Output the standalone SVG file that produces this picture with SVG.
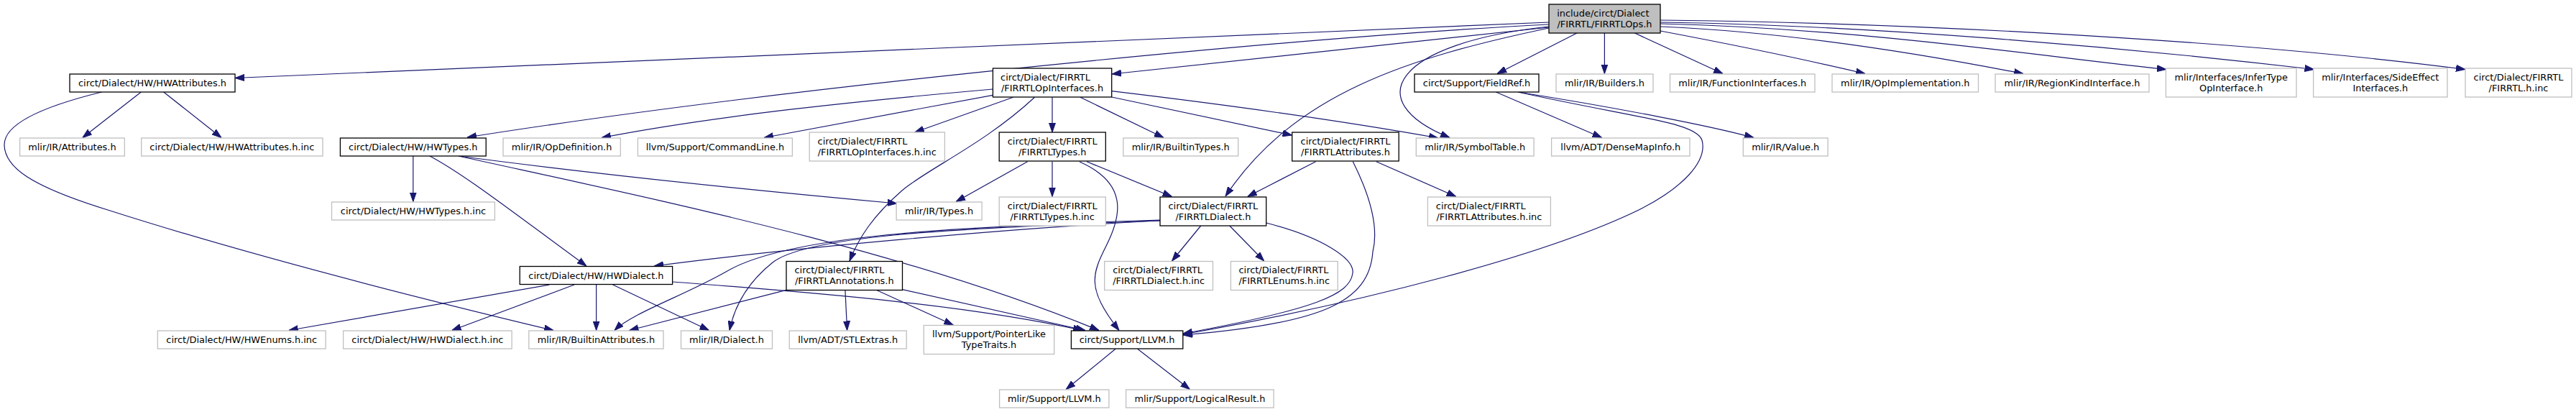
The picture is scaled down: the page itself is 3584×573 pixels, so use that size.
<svg xmlns="http://www.w3.org/2000/svg" width="3584" height="573" viewBox="0 0 3584 573">
<defs>
<style>
.node rect{stroke-width:1.3}
.doc rect{fill:#ffffff;stroke:#000000}
.ext rect{fill:#ffffff;stroke:#bfbfbf}
.root rect{fill:#bfbfbf;stroke:#000000}
text{font-family:"DejaVu Sans","Liberation Sans",sans-serif;font-size:12.9px;fill:#000000}
.c{text-anchor:middle}
.s{text-anchor:start}
#edges path{fill:none;stroke:#191970;stroke-width:1.2;marker-end:url(#ah)}
</style>
<marker id="ah" markerWidth="13" markerHeight="10" refX="13" refY="5" orient="auto" markerUnits="userSpaceOnUse">
<path d="M0,0.5 L13,5 L0,9.5 z" fill="#191970" stroke="#191970" stroke-width="1"/>
</marker>
</defs>
<rect x="0" y="0" width="3584" height="573" fill="#ffffff"/>

<g id="edges">
<path d="M2155,31 L327,108.5"/>
<path d="M2155,34 C 1800,52 1100,120 650,191"/>
<path d="M2155,38 L1547,103"/>
<path d="M2155,39 C 1960,80 1800,130 1705,273"/>
<path d="M2155,37 C 1940,60 1890,140 2017,191.5"/>
<path d="M2194,46 L2083,102.5"/>
<path d="M2232.4,46 L2232.4,102.5"/>
<path d="M2274.5,46 L2397,102.5"/>
<path d="M2310,43 C 2400,60 2500,80 2595,102.5"/>
<path d="M2310,37 C 2500,45 2700,80 2815,102.5"/>
<path d="M2310,33 C 2600,40 2850,80 3014,96.5"/>
<path d="M2310,31 C 2600,35 2950,65 3219.5,96.5"/>
<path d="M2310,28 C 2700,32 3150,60 3430,96.5"/>
<path d="M1381.4,124 C 1200,140 1000,160 837,191.5"/>
<path d="M1381.4,132.3 L1063,191.5"/>
<path d="M1409.7,135.3 L1272.7,184"/>
<path d="M1464,135.3 L1464,184"/>
<path d="M1503,135.3 L1619,191.5"/>
<path d="M1546.7,135 L1797.5,188"/>
<path d="M1546.7,126.7 C 1700,145 1850,165 2001,192"/>
<path d="M1439.5,135.3 C 1370,200 1290,235 1255,265 C 1215,300 1195,330 1182,363"/>
<path d="M196.3,128 L114.8,191.5"/>
<path d="M227.7,128 L308,191.5"/>
<path d="M141.6,128 C 60,148 5,172 6,202 C 7,232 40,258 150,292 C 300,340 500,395 770,459.5"/>
<path d="M574.8,217 L574.8,280.5"/>
<path d="M598,217 C 650,245 720,300 816,370"/>
<path d="M638,217 C 850,245 1050,265 1248,283"/>
<path d="M638,217 C 900,275 1250,345 1529,459.5"/>
<path d="M1429.6,224.7 L1330.1,280.5"/>
<path d="M1464,224.7 L1464,273.5"/>
<path d="M1502,225 C 1570,255 1560,300 1540,340 S 1510,400 1557,459.5"/>
<path d="M1511.9,224.7 L1630.5,273.5"/>
<path d="M1830.6,224.7 L1735.7,273.5"/>
<path d="M1914.8,224.7 L2025.8,273.5"/>
<path d="M1882.3,224.7 C 1900,260 1920,310 1910,350 C 1905,420 1840,450 1646,466"/>
<path d="M1670.7,314 L1630.5,363"/>
<path d="M1710.8,314 L1758.7,363"/>
<path d="M1761.7,310 C 1840,330 1885,360 1882,380 C 1878,410 1830,430 1646,464"/>
<path d="M2081.3,128 L2228.6,191.5"/>
<path d="M2112,128 C 2250,150 2380,175 2440,191.5"/>
<path d="M2112,128 C 2280,165 2360,170 2368,195 C 2376,225 2340,262 2280,292 C 2150,355 1900,420 1646,465"/>
<path d="M764.5,396 L401.8,459.5"/>
<path d="M799,396 L628.7,459.5"/>
<path d="M829.6,396 L829.6,459.5"/>
<path d="M852.6,396 L986.5,459.5"/>
<path d="M935.6,392 C 1150,408 1350,425 1506,459.5"/>
<path d="M1614,306.7 C 1400,318 1100,345 910,370"/>
<path d="M1614,306 C 1300,316 1090,330 1010,378 C 950,412 880,435 855,459.5"/>
<path d="M1614,307 C 1300,318 1120,330 1075,365 C 1040,393 1022,425 1015,459.5"/>
<path d="M1094,403.3 L875.5,459.5"/>
<path d="M1175.9,403.3 L1178.6,459.5"/>
<path d="M1219.1,403.3 L1326.3,452"/>
<path d="M1255.5,402.7 L1510,459.5"/>
<path d="M1552,485.3 L1483.2,541.5"/>
<path d="M1582.7,485.3 L1655.4,541.5"/>
</g>

<g id="n_root" class="node root"><rect x="2155" y="6" width="155" height="40"/><text class="s" x="2166.2" y="22.5">include/circt/Dialect</text><text class="c" x="2232.5" y="37.5">/FIRRTL/FIRRTLOps.h</text></g>
<g id="n_hwattr" class="node doc"><rect x="97" y="103" width="230" height="25"/><text class="c" x="212" y="120">circt/Dialect/HW/HWAttributes.h</text></g>
<g id="n_fieldref" class="node doc"><rect x="1968" y="103" width="173" height="25"/><text class="c" x="2054.5" y="120">circt/Support/FieldRef.h</text></g>
<g id="n_builders" class="node ext"><rect x="2165" y="103" width="135" height="25"/><text class="c" x="2232.5" y="120">mlir/IR/Builders.h</text></g>
<g id="n_funcif" class="node ext"><rect x="2323.5" y="103" width="201.5" height="25"/><text class="c" x="2424.3" y="120">mlir/IR/FunctionInterfaces.h</text></g>
<g id="n_opimpl" class="node ext"><rect x="2549" y="103" width="203.5" height="25"/><text class="c" x="2650.8" y="120">mlir/IR/OpImplementation.h</text></g>
<g id="n_region" class="node ext"><rect x="2776" y="103" width="214" height="25"/><text class="c" x="2883" y="120">mlir/IR/RegionKindInterface.h</text></g>
<g id="n_infer" class="node ext"><rect x="3013.4" y="95" width="181.6" height="40"/><text class="c" x="3104.2" y="111.5">mlir/Interfaces/InferType</text><text class="c" x="3104.2" y="126.5">OpInterface.h</text></g>
<g id="n_sideeff" class="node ext"><rect x="3218.6" y="95" width="186.4" height="40"/><text class="c" x="3311.8" y="111.5">mlir/Interfaces/SideEffect</text><text class="c" x="3311.8" y="126.5">Interfaces.h</text></g>
<g id="n_firrtlinc" class="node ext"><rect x="3430" y="95" width="148" height="40"/><text class="c" x="3504" y="111.5">circt/Dialect/FIRRTL</text><text class="c" x="3504" y="126.5">/FIRRTL.h.inc</text></g>
<g id="n_opif" class="node doc"><rect x="1381.4" y="95" width="165.3" height="40"/><text class="s" x="1392.1" y="111.5">circt/Dialect/FIRRTL</text><text class="c" x="1464" y="126.5">/FIRRTLOpInterfaces.h</text></g>

<g id="n_attrs" class="node ext"><rect x="27.6" y="192" width="145.7" height="25"/><text class="c" x="100.4" y="209">mlir/IR/Attributes.h</text></g>
<g id="n_hwattrinc" class="node ext"><rect x="196.7" y="192" width="252.3" height="25"/><text class="c" x="322.8" y="209">circt/Dialect/HW/HWAttributes.h.inc</text></g>
<g id="n_hwtypes" class="node doc"><rect x="473.4" y="192" width="202.8" height="25"/><text class="c" x="574.8" y="209">circt/Dialect/HW/HWTypes.h</text></g>
<g id="n_opdef" class="node ext"><rect x="700" y="192" width="163.3" height="25"/><text class="c" x="781.6" y="209">mlir/IR/OpDefinition.h</text></g>
<g id="n_cmdline" class="node ext"><rect x="887.4" y="192" width="215" height="25"/><text class="c" x="994.9" y="209">llvm/Support/CommandLine.h</text></g>
<g id="n_opifinc" class="node ext"><rect x="1126.2" y="184" width="188.2" height="40"/><text class="s" x="1137.6" y="200.5">circt/Dialect/FIRRTL</text><text class="c" x="1220.3" y="215.5">/FIRRTLOpInterfaces.h.inc</text></g>
<g id="n_firtypes" class="node doc"><rect x="1390.2" y="184" width="148.1" height="40"/><text class="c" x="1464.2" y="200.5">circt/Dialect/FIRRTL</text><text class="c" x="1464.2" y="215.5">/FIRRTLTypes.h</text></g>
<g id="n_builtintypes" class="node ext"><rect x="1562.8" y="192" width="159.9" height="25"/><text class="c" x="1642.7" y="209">mlir/IR/BuiltinTypes.h</text></g>
<g id="n_firattrs" class="node doc"><rect x="1797.7" y="184" width="148.5" height="40"/><text class="c" x="1872" y="200.5">circt/Dialect/FIRRTL</text><text class="c" x="1872" y="215.5">/FIRRTLAttributes.h</text></g>
<g id="n_symtab" class="node ext"><rect x="1970.3" y="192" width="163.8" height="25"/><text class="c" x="2052.2" y="209">mlir/IR/SymbolTable.h</text></g>
<g id="n_densemap" class="node ext"><rect x="2158.6" y="192" width="192.4" height="25"/><text class="c" x="2254.8" y="209">llvm/ADT/DenseMapInfo.h</text></g>
<g id="n_value" class="node ext"><rect x="2425.3" y="192" width="117.8" height="25"/><text class="c" x="2484.2" y="209">mlir/IR/Value.h</text></g>

<g id="n_hwtypesinc" class="node ext"><rect x="461.5" y="281" width="226.9" height="25"/><text class="c" x="575" y="298">circt/Dialect/HW/HWTypes.h.inc</text></g>
<g id="n_types" class="node ext"><rect x="1247.1" y="281" width="119" height="25"/><text class="c" x="1306.6" y="298">mlir/IR/Types.h</text></g>
<g id="n_firtypesinc" class="node ext"><rect x="1390.2" y="274" width="148.1" height="40"/><text class="c" x="1464.2" y="290.5">circt/Dialect/FIRRTL</text><text class="c" x="1464.2" y="305.5">/FIRRTLTypes.h.inc</text></g>
<g id="n_firdialect" class="node doc"><rect x="1614" y="274" width="147.7" height="40"/><text class="c" x="1687.9" y="290.5">circt/Dialect/FIRRTL</text><text class="c" x="1687.9" y="305.5">/FIRRTLDialect.h</text></g>
<g id="n_firattrsinc" class="node ext"><rect x="1986.4" y="274" width="171" height="40"/><text class="s" x="1997.8" y="290.5">circt/Dialect/FIRRTL</text><text class="c" x="2071.9" y="305.5">/FIRRTLAttributes.h.inc</text></g>

<g id="n_hwdialect" class="node doc"><rect x="723.2" y="370.5" width="212.4" height="25"/><text class="c" x="829.4" y="387.5">circt/Dialect/HW/HWDialect.h</text></g>
<g id="n_annotations" class="node doc"><rect x="1094" y="363.5" width="161.5" height="40"/><text class="s" x="1105.5" y="380">circt/Dialect/FIRRTL</text><text class="c" x="1174.8" y="395">/FIRRTLAnnotations.h</text></g>
<g id="n_firdialectinc" class="node ext"><rect x="1536.7" y="363.5" width="150.8" height="40"/><text class="s" x="1548.2" y="380">circt/Dialect/FIRRTL</text><text class="c" x="1612.1" y="395">/FIRRTLDialect.h.inc</text></g>
<g id="n_firenumsinc" class="node ext"><rect x="1712.4" y="363.5" width="148.8" height="40"/><text class="s" x="1723.5" y="380">circt/Dialect/FIRRTL</text><text class="c" x="1786.8" y="395">/FIRRTLEnums.h.inc</text></g>

<g id="n_hwenumsinc" class="node ext"><rect x="219.3" y="460" width="233.8" height="25"/><text class="c" x="336.2" y="477">circt/Dialect/HW/HWEnums.h.inc</text></g>
<g id="n_hwdialectinc" class="node ext"><rect x="477.6" y="460" width="234.5" height="25"/><text class="c" x="594.9" y="477">circt/Dialect/HW/HWDialect.h.inc</text></g>
<g id="n_builtinattrs" class="node ext"><rect x="735.8" y="460" width="187.2" height="25"/><text class="c" x="829.4" y="477">mlir/IR/BuiltinAttributes.h</text></g>
<g id="n_dialect" class="node ext"><rect x="947.5" y="460" width="127" height="25"/><text class="c" x="1011" y="477">mlir/IR/Dialect.h</text></g>
<g id="n_stlextras" class="node ext"><rect x="1098.2" y="460" width="163" height="25"/><text class="c" x="1179.7" y="477">llvm/ADT/STLExtras.h</text></g>
<g id="n_pointerlike" class="node ext"><rect x="1285.3" y="452.5" width="181.4" height="40"/><text class="c" x="1376" y="469">llvm/Support/PointerLike</text><text class="c" x="1376" y="484">TypeTraits.h</text></g>
<g id="n_llvm" class="node doc"><rect x="1490.4" y="460" width="155.4" height="25"/><text class="c" x="1568.1" y="477">circt/Support/LLVM.h</text></g>
<g id="n_mlirllvm" class="node ext"><rect x="1390.6" y="542" width="152.3" height="25"/><text class="c" x="1466.8" y="559">mlir/Support/LLVM.h</text></g>
<g id="n_logicalresult" class="node ext"><rect x="1566.6" y="542" width="205.5" height="25"/><text class="c" x="1669.4" y="559">mlir/Support/LogicalResult.h</text></g>
</svg>
